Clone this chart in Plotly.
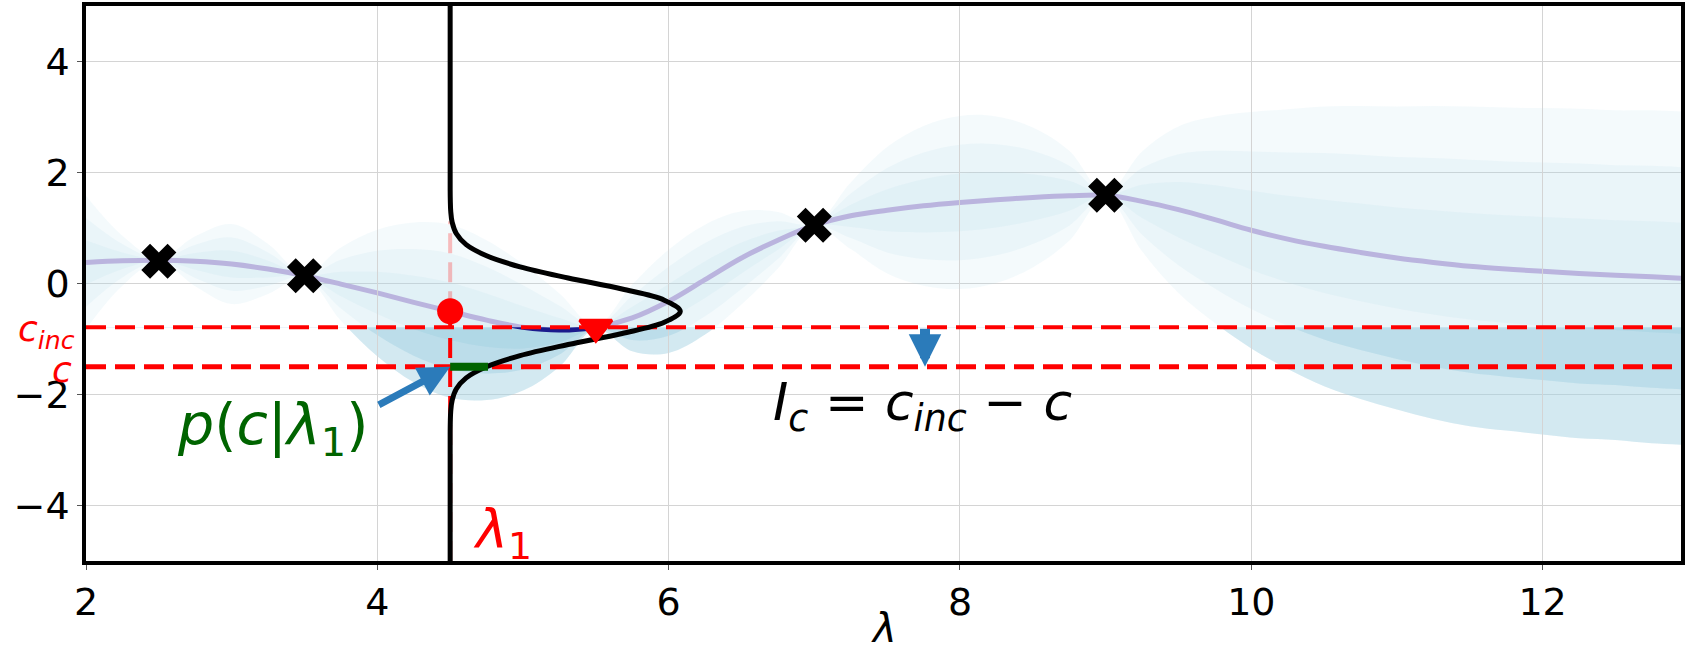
import plotly.graph_objects as go

# ---------------- data ----------------
lam_grid = [2.0, 2.25, 2.5, 2.75, 3.0, 3.25, 3.5, 3.75, 4.0, 4.25, 4.5, 4.75,
            5.0, 5.25, 5.5, 5.75, 6.0, 6.25, 6.5, 6.75, 7.0, 7.25, 7.5, 7.75,
            8.0, 8.25, 8.5, 8.75, 9.0, 9.25, 9.5, 9.75, 10.0, 10.25, 10.5, 10.75,
            11.0, 11.25, 11.5, 11.75, 12.0, 12.25, 12.5, 12.75, 13.0]
mean_vals = [0.38, 0.41, 0.42, 0.40, 0.35, 0.26, 0.14, -0.01, -0.17, -0.34, -0.50, -0.66,
             -0.79, -0.84, -0.79, -0.62, -0.32, 0.07, 0.46, 0.78, 1.05, 1.22, 1.32, 1.40,
             1.46, 1.51, 1.55, 1.58, 1.59, 1.48, 1.33, 1.15, 0.96, 0.80, 0.67, 0.56,
             0.46, 0.38, 0.31, 0.26, 0.22, 0.18, 0.15, 0.12, 0.09]
sigma_vals = [0.40, 0.15, 0.01, 0.15, 0.24, 0.15, 0.01, 0.22, 0.38, 0.48, 0.52, 0.48,
              0.38, 0.22, 0.01, 0.20, 0.31, 0.33, 0.28, 0.17, 0.01, 0.20, 0.38, 0.48,
              0.52, 0.50, 0.42, 0.27, 0.01, 0.30, 0.50, 0.62, 0.71, 0.78, 0.84, 0.88,
              0.91, 0.94, 0.96, 0.97, 0.98, 0.99, 0.99, 1.00, 1.00]
band_levels = [3, 2, 1]

obs_lam = [2.5, 3.5, 7.0, 9.0]
obs_c = [0.40, 0.14, 1.05, 1.59]

lam1 = 4.5
mu_lam1 = -0.50
pink_top = 1.12
inc_lam = 5.5
inc_c = -0.79
c_inc = -0.79
c_val = -1.50
p_c_width = 0.26

# sideways predictive density at lambda_1 (c value, horizontal width)
pdf_c = [-5.0, -2.7, -2.5, -2.3, -2.1, -1.9, -1.7, -1.5, -1.3, -1.1, -0.9, -0.7, -0.5,
         -0.3, -0.1, 0.1, 0.3, 0.5, 0.7, 0.9, 1.1, 1.3, 1.5, 1.7, 5.0]
pdf_w = [0.0, 0.0, 0.001, 0.004, 0.014, 0.042, 0.11, 0.25, 0.48, 0.81, 1.18, 1.47, 1.58,
         1.47, 1.18, 0.81, 0.48, 0.25, 0.11, 0.042, 0.014, 0.004, 0.001, 0.0, 0.0]

x_ticks = [2, 4, 6, 8, 10, 12]
y_ticks = [-4, -2, 0, 2, 4]
x_range = [2.0, 12.95]
y_range = [-5.0, 5.0]

# ---------------- styles ----------------
FONT = "DejaVu Sans"
LIGHT = "rgba(173,216,230,0.13)"
DARK = "rgba(165,210,226,0.42)"
RED = "#ff0000"
MEAN_C = "rgb(186,180,222)"
ARROW_C = "#2b7bba"
DASH = "20px,9px"

fig = go.Figure()

# light confidence bands (main subplot)
for k in band_levels:
    up = [m + k * s for m, s in zip(mean_vals, sigma_vals)]
    lo = [m - k * s for m, s in zip(mean_vals, sigma_vals)]
    fig.add_trace(go.Scatter(x=lam_grid, y=up, mode="lines", line=dict(width=0, shape="spline"),
                             hoverinfo="skip", showlegend=False))
    fig.add_trace(go.Scatter(x=lam_grid, y=lo, mode="lines", line=dict(width=0, shape="spline"),
                             fill="tonexty", fillcolor=LIGHT, hoverinfo="skip", showlegend=False))

fig.add_trace(go.Scatter(x=lam_grid, y=mean_vals, mode="lines",
                         line=dict(color=MEAN_C, width=5, shape="spline"), showlegend=False))

# improvement region (subplot clipped below c_inc)
for k in band_levels:
    lo = [m - k * s for m, s in zip(mean_vals, sigma_vals)]
    fig.add_trace(go.Scatter(x=lam_grid, y=[c_inc] * len(lam_grid), yaxis="y2", mode="lines",
                             line=dict(width=0), hoverinfo="skip", showlegend=False))
    fig.add_trace(go.Scatter(x=lam_grid, y=lo, yaxis="y2", mode="lines",
                             line=dict(width=0, shape="spline"), fill="tonexty", fillcolor=DARK,
                             hoverinfo="skip", showlegend=False))
fig.add_trace(go.Scatter(x=lam_grid, y=mean_vals, yaxis="y2", mode="lines",
                         line=dict(color="#1a1a8c", width=5, shape="spline"), showlegend=False))

# foreground subplot
span = [lam_grid[0], lam_grid[-1]]
fig.add_trace(go.Scatter(x=span, y=[c_inc, c_inc], yaxis="y3", mode="lines",
                         line=dict(color=RED, width=4, dash=DASH), showlegend=False))
fig.add_trace(go.Scatter(x=span, y=[c_val, c_val], yaxis="y3", mode="lines",
                         line=dict(color=RED, width=5, dash=DASH), showlegend=False))
fig.add_trace(go.Scatter(x=[lam1, lam1], y=[mu_lam1, pink_top], yaxis="y3", mode="lines",
                         line=dict(color="rgba(255,0,0,0.25)", width=4, dash=DASH),
                         showlegend=False))
fig.add_trace(go.Scatter(x=[lam1, lam1], y=[y_range[0], mu_lam1], yaxis="y3", mode="lines",
                         line=dict(color=RED, width=4, dash=DASH), showlegend=False))
fig.add_trace(go.Scatter(x=[lam1 + w for w in pdf_w], y=pdf_c, yaxis="y3", mode="lines",
                         line=dict(color="black", width=5, shape="spline"), showlegend=False))
fig.add_trace(go.Scatter(x=[lam1, lam1 + p_c_width], y=[c_val, c_val], yaxis="y3", mode="lines",
                         line=dict(color="darkgreen", width=8), showlegend=False))
fig.add_trace(go.Scatter(x=obs_lam, y=obs_c, yaxis="y3", mode="markers",
                         marker=dict(symbol="x", size=31, color="black", line=dict(width=0)),
                         showlegend=False))
fig.add_trace(go.Scatter(x=[lam1], y=[mu_lam1], yaxis="y3", mode="markers",
                         marker=dict(symbol="circle", size=26, color=RED, line=dict(width=0)),
                         showlegend=False))
fig.add_trace(go.Scatter(x=[inc_lam], y=[inc_c], yaxis="y3", mode="markers",
                         marker=dict(symbol="triangle-down", size=28, color=RED,
                                     line=dict(width=3, color=RED)),
                         showlegend=False))

# ---------------- annotations ----------------
ann = []
ann.append(dict(x=lam1, y=c_val, ax=4.0, ay=-2.2, xref="x", yref="y", axref="x", ayref="y",
                text="", showarrow=True, arrowhead=2, arrowwidth=7, arrowsize=0.9,
                arrowcolor=ARROW_C))
ann.append(dict(x=7.76, y=c_val, ax=7.76, ay=c_inc, xref="x", yref="y", axref="x", ayref="y",
                text="", showarrow=True, arrowhead=2, arrowwidth=10, arrowsize=0.65,
                arrowcolor=ARROW_C))
ann.append(dict(x=3.28, y=-2.6, xref="x", yref="y", showarrow=False,
                text="<i>p</i>(<i>c</i>|<i>λ</i><sub>1</sub>)",
                font=dict(family=FONT, size=57, color="darkgreen")))
ann.append(dict(x=7.74, y=-2.2, xref="x", yref="y", showarrow=False,
                text="<i>I</i><sub><i>c</i></sub> = <i>c</i><sub><i>inc</i></sub> − <i>c</i>",
                font=dict(family=FONT, size=52, color="black")))
ann.append(dict(x=4.86, y=-4.5, xref="x", yref="y", showarrow=False,
                text="<i>λ</i><sub>1</sub>", font=dict(family=FONT, size=54, color=RED)))
ann.append(dict(x=-0.006, y=c_inc - 0.08, xref="paper", yref="y", xanchor="right",
                showarrow=False, text="<i>c</i><sub><i>inc</i></sub>", borderpad=0,
                font=dict(family=FONT, size=36, color=RED)))
ann.append(dict(x=-0.008, y=c_val - 0.05, xref="paper", yref="y", xanchor="right",
                showarrow=False, text="<i>c</i>", borderpad=0,
                font=dict(family=FONT, size=36, color=RED)))
# x-axis title (placed as paper annotation near the bottom edge like the original)
ann.append(dict(x=0.5, y=-0.12, xref="paper", yref="paper", yanchor="middle",
                showarrow=False, text="<i>λ</i>", font=dict(family=FONT, size=40, color="black")))

clip_top = (c_inc - y_range[0]) / (y_range[1] - y_range[0])

fig.update_layout(
    width=1686, height=648,
    margin=dict(l=86, r=5, t=6, b=87, autoexpand=False),
    paper_bgcolor="white", plot_bgcolor="rgba(0,0,0,0)",
    font=dict(family=FONT, size=38, color="black"),
    showlegend=False,
    annotations=ann,
    xaxis=dict(range=x_range, tickvals=x_ticks, showgrid=True, gridcolor="#d4d4d4", gridwidth=1,
               zeroline=False, showline=True, mirror=True, linecolor="black", linewidth=3.5,
               ticks="outside", ticklen=5, tickcolor="#555", tickfont=dict(size=38),
               anchor="y", automargin=False),
    yaxis=dict(range=y_range, tickvals=y_ticks, showgrid=True, gridcolor="#d4d4d4", gridwidth=1,
               zeroline=False, showline=True, mirror=True, linecolor="black", linewidth=3.5,
               ticks="outside", ticklen=5, tickcolor="#555", tickfont=dict(size=38),
               domain=[0, 1], anchor="x", automargin=False),
    yaxis2=dict(range=[y_range[0], c_inc], domain=[0, clip_top], visible=False, anchor="x"),
    yaxis3=dict(range=y_range, domain=[0, 1], visible=False, anchor="x"),
)

fig.write_html("out.html")
